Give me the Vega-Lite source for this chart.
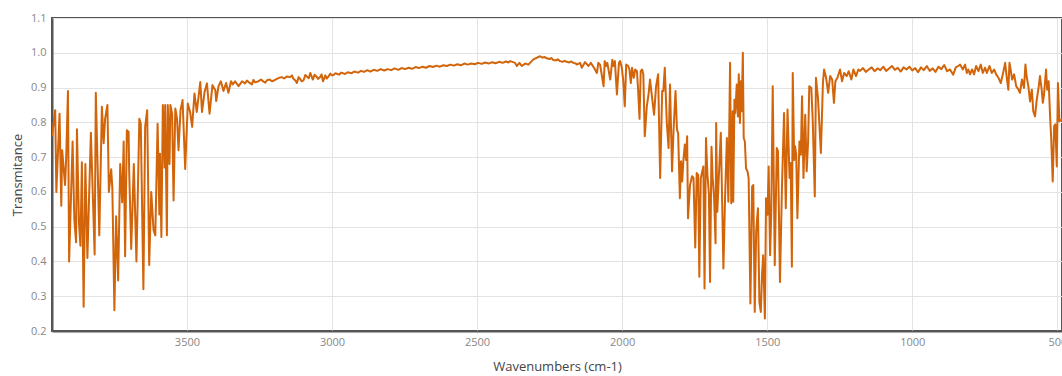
{
  "$schema": "https://vega.github.io/schema/vega-lite/v6.json",
  "width": 1010,
  "height": 313,
  "autosize": {"type": "none"},
  "padding": {"left": 52, "top": 18, "right": 0, "bottom": 45},
  "background": "white",
  "config": {
    "font": "Open Sans",
    "view": {"stroke": "#555555", "strokeWidth": 2}
  },
  "data": {"values": [
    {"w":3965,"t":0.76},{"w":3954,"t":0.835},{"w":3950,"t":0.60},{"w":3939,"t":0.825},{"w":3933,"t":0.56},
    {"w":3930,"t":0.72},{"w":3920,"t":0.62},{"w":3916,"t":0.70},{"w":3910,"t":0.89},{"w":3906,"t":0.40},
    {"w":3894,"t":0.745},{"w":3888,"t":0.52},{"w":3882,"t":0.455},{"w":3879,"t":0.78},{"w":3872,"t":0.51},
    {"w":3867,"t":0.445},{"w":3862,"t":0.685},{"w":3856,"t":0.27},{"w":3850,"t":0.68},{"w":3843,"t":0.41},
    {"w":3831,"t":0.77},{"w":3818,"t":0.42},{"w":3814,"t":0.885},{"w":3802,"t":0.475},{"w":3793,"t":0.845},
    {"w":3787,"t":0.74},{"w":3782,"t":0.81},{"w":3774,"t":0.85},{"w":3769,"t":0.60},{"w":3761,"t":0.665},
    {"w":3757,"t":0.61},{"w":3750,"t":0.26},{"w":3744,"t":0.53},{"w":3737,"t":0.345},{"w":3730,"t":0.68},
    {"w":3723,"t":0.57},{"w":3718,"t":0.745},{"w":3713,"t":0.415},{"w":3707,"t":0.777},{"w":3701,"t":0.772},
    {"w":3699,"t":0.66},{"w":3692,"t":0.436},{"w":3683,"t":0.68},{"w":3674,"t":0.40},{"w":3664,"t":0.81},
    {"w":3659,"t":0.796},{"w":3650,"t":0.32},{"w":3644,"t":0.787},{"w":3637,"t":0.835},{"w":3630,"t":0.39},
    {"w":3623,"t":0.60},{"w":3615,"t":0.49},{"w":3609,"t":0.475},{"w":3601,"t":0.796},{"w":3595,"t":0.535},
    {"w":3593,"t":0.71},{"w":3588,"t":0.47},{"w":3583,"t":0.85},{"w":3577,"t":0.67},{"w":3575,"t":0.85},
    {"w":3569,"t":0.475},{"w":3566,"t":0.85},{"w":3560,"t":0.68},{"w":3557,"t":0.85},{"w":3551,"t":0.825},
    {"w":3546,"t":0.575},{"w":3540,"t":0.84},{"w":3534,"t":0.81},{"w":3529,"t":0.72},{"w":3522,"t":0.835},
    {"w":3515,"t":0.864},{"w":3506,"t":0.666},{"w":3497,"t":0.854},{"w":3489,"t":0.83},{"w":3482,"t":0.787},
    {"w":3474,"t":0.883},{"w":3466,"t":0.83},{"w":3454,"t":0.916},{"w":3448,"t":0.83},{"w":3439,"t":0.888},
    {"w":3431,"t":0.912},{"w":3422,"t":0.825},{"w":3412,"t":0.907},{"w":3402,"t":0.892},{"w":3399,"t":0.861},
    {"w":3391,"t":0.904},{"w":3383,"t":0.918},{"w":3374,"t":0.89},{"w":3365,"t":0.913},{"w":3357,"t":0.885},
    {"w":3348,"t":0.918},{"w":3342,"t":0.909},{"w":3334,"t":0.918},{"w":3322,"t":0.904},{"w":3310,"t":0.918},
    {"w":3300,"t":0.912},{"w":3293,"t":0.92},{"w":3285,"t":0.914},{"w":3276,"t":0.909},{"w":3271,"t":0.922},
    {"w":3265,"t":0.915},{"w":3253,"t":0.918},{"w":3245,"t":0.923},{"w":3236,"t":0.917},{"w":3230,"t":0.914},
    {"w":3224,"t":0.921},{"w":3215,"t":0.923},{"w":3207,"t":0.918},{"w":3198,"t":0.921},{"w":3190,"t":0.925},
    {"w":3182,"t":0.928},{"w":3173,"t":0.93},{"w":3165,"t":0.926},{"w":3155,"t":0.932},{"w":3144,"t":0.93},
    {"w":3138,"t":0.935},{"w":3133,"t":0.925},{"w":3126,"t":0.92},{"w":3121,"t":0.913},{"w":3115,"t":0.93},
    {"w":3110,"t":0.925},{"w":3104,"t":0.918},{"w":3098,"t":0.921},{"w":3092,"t":0.936},{"w":3087,"t":0.932},
    {"w":3080,"t":0.927},{"w":3075,"t":0.942},{"w":3066,"t":0.923},{"w":3060,"t":0.937},{"w":3054,"t":0.932},
    {"w":3048,"t":0.925},{"w":3041,"t":0.93},{"w":3036,"t":0.938},{"w":3031,"t":0.918},{"w":3023,"t":0.935},
    {"w":3018,"t":0.926},{"w":3012,"t":0.932},{"w":3006,"t":0.94},{"w":3000,"t":0.935},{"w":2995,"t":0.936},
    {"w":2988,"t":0.941},{"w":2976,"t":0.937},{"w":2968,"t":0.943},{"w":2955,"t":0.939},{"w":2946,"t":0.944},
    {"w":2932,"t":0.941},{"w":2924,"t":0.946},{"w":2910,"t":0.943},{"w":2900,"t":0.948},{"w":2890,"t":0.945},
    {"w":2878,"t":0.95},{"w":2868,"t":0.946},{"w":2856,"t":0.951},{"w":2844,"t":0.948},{"w":2832,"t":0.953},
    {"w":2820,"t":0.949},{"w":2808,"t":0.953},{"w":2796,"t":0.95},{"w":2784,"t":0.955},{"w":2772,"t":0.951},
    {"w":2760,"t":0.956},{"w":2748,"t":0.953},{"w":2736,"t":0.957},{"w":2724,"t":0.954},{"w":2712,"t":0.959},
    {"w":2700,"t":0.956},{"w":2688,"t":0.96},{"w":2676,"t":0.957},{"w":2664,"t":0.962},{"w":2652,"t":0.959},
    {"w":2640,"t":0.963},{"w":2628,"t":0.96},{"w":2616,"t":0.964},{"w":2604,"t":0.962},{"w":2592,"t":0.966},
    {"w":2580,"t":0.963},{"w":2568,"t":0.967},{"w":2556,"t":0.964},{"w":2544,"t":0.969},{"w":2532,"t":0.966},
    {"w":2520,"t":0.969},{"w":2508,"t":0.967},{"w":2496,"t":0.971},{"w":2484,"t":0.968},{"w":2472,"t":0.972},
    {"w":2460,"t":0.969},{"w":2448,"t":0.973},{"w":2436,"t":0.97},{"w":2424,"t":0.974},{"w":2412,"t":0.971},
    {"w":2400,"t":0.975},{"w":2392,"t":0.972},
    {"w":2386,"t":0.976},{"w":2369,"t":0.971},
    {"w":2363,"t":0.962},{"w":2354,"t":0.971},{"w":2346,"t":0.962},{"w":2334,"t":0.969},{"w":2323,"t":0.966},
    {"w":2306,"t":0.981},{"w":2283,"t":0.99},{"w":2275,"t":0.986},{"w":2268,"t":0.988},{"w":2260,"t":0.984},
    {"w":2250,"t":0.982},{"w":2244,"t":0.985},{"w":2237,"t":0.979},{"w":2228,"t":0.978},{"w":2222,"t":0.981},
    {"w":2214,"t":0.976},{"w":2205,"t":0.974},{"w":2198,"t":0.977},
    {"w":2191,"t":0.974},{"w":2182,"t":0.972},{"w":2176,"t":0.975},{"w":2168,"t":0.971},{"w":2160,"t":0.969},
    {"w":2156,"t":0.966},{"w":2145,"t":0.971},{"w":2139,"t":0.957},
    {"w":2128,"t":0.973},{"w":2116,"t":0.962},{"w":2108,"t":0.971},{"w":2097,"t":0.957},{"w":2087,"t":0.942},
    {"w":2082,"t":0.971},{"w":2076,"t":0.966},{"w":2064,"t":0.904},{"w":2060,"t":0.976},{"w":2055,"t":0.962},
    {"w":2051,"t":0.971},{"w":2041,"t":0.923},{"w":2034,"t":0.98},{"w":2030,"t":0.962},{"w":2025,"t":0.976},
    {"w":2018,"t":0.88},{"w":2011,"t":0.971},{"w":2007,"t":0.976},{"w":2001,"t":0.957},{"w":1996,"t":0.918},
    {"w":1991,"t":0.846},{"w":1986,"t":0.966},{"w":1979,"t":0.962},{"w":1975,"t":0.952},{"w":1970,"t":0.913},
    {"w":1966,"t":0.957},{"w":1960,"t":0.928},{"w":1955,"t":0.952},{"w":1949,"t":0.947},{"w":1945,"t":0.894},
    {"w":1940,"t":0.81},{"w":1936,"t":0.947},{"w":1931,"t":0.952},{"w":1927,"t":0.938},{"w":1922,"t":0.76},
    {"w":1915,"t":0.846},{"w":1909,"t":0.88},{"w":1904,"t":0.923},{"w":1896,"t":0.865},{"w":1890,"t":0.822},
    {"w":1883,"t":0.904},{"w":1876,"t":0.938},{"w":1869,"t":0.64},{"w":1862,"t":0.89},{"w":1858,"t":0.89},
    {"w":1853,"t":0.957},{"w":1846,"t":0.798},{"w":1840,"t":0.726},{"w":1835,"t":0.909},{"w":1828,"t":0.659},
    {"w":1823,"t":0.774},{"w":1816,"t":0.89},{"w":1811,"t":0.779},{"w":1807,"t":0.769},{"w":1801,"t":0.582},
    {"w":1797,"t":0.688},{"w":1793,"t":0.63},{"w":1789,"t":0.69},{"w":1784,"t":0.736},{"w":1780,"t":0.692},
    {"w":1776,"t":0.76},{"w":1773,"t":0.524},{"w":1766,"t":0.62},{"w":1759,"t":0.645},{"w":1754,"t":0.64},
    {"w":1748,"t":0.44},{"w":1743,"t":0.654},{"w":1738,"t":0.649},{"w":1734,"t":0.356},{"w":1729,"t":0.639},
    {"w":1724,"t":0.659},{"w":1720,"t":0.673},{"w":1716,"t":0.322},{"w":1711,"t":0.755},{"w":1706,"t":0.649},
    {"w":1701,"t":0.596},{"w":1697,"t":0.341},{"w":1692,"t":0.73},{"w":1688,"t":0.64},{"w":1683,"t":0.582},
    {"w":1678,"t":0.452},{"w":1676,"t":0.798},{"w":1672,"t":0.543},{"w":1667,"t":0.64},{"w":1660,"t":0.77},
    {"w":1655,"t":0.562},{"w":1651,"t":0.38},{"w":1645,"t":0.591},{"w":1639,"t":0.755},{"w":1634,"t":0.572},
    {"w":1628,"t":0.971},{"w":1624,"t":0.567},{"w":1619,"t":0.832},{"w":1617,"t":0.572},{"w":1613,"t":0.865},
    {"w":1610,"t":0.827},{"w":1605,"t":0.909},{"w":1601,"t":0.817},{"w":1598,"t":0.938},{"w":1594,"t":0.798},
    {"w":1591,"t":0.918},{"w":1588,"t":0.832},{"w":1584,"t":1.0},{"w":1581,"t":0.755},{"w":1577,"t":0.745},
    {"w":1573,"t":0.668},{"w":1568,"t":0.659},{"w":1564,"t":0.64},{"w":1558,"t":0.279},{"w":1552,"t":0.615},
    {"w":1548,"t":0.62},{"w":1543,"t":0.255},{"w":1538,"t":0.486},{"w":1532,"t":0.553},{"w":1527,"t":0.284},
    {"w":1522,"t":0.255},{"w":1518,"t":0.36},{"w":1514,"t":0.418},{"w":1508,"t":0.236},{"w":1504,"t":0.582},
    {"w":1499,"t":0.534},{"w":1495,"t":0.673},{"w":1490,"t":0.418},{"w":1486,"t":0.543},{"w":1481,"t":0.904},
    {"w":1474,"t":0.389},{"w":1467,"t":0.726},{"w":1463,"t":0.717},{"w":1456,"t":0.341},{"w":1449,"t":0.62},
    {"w":1442,"t":0.827},{"w":1436,"t":0.553},{"w":1430,"t":0.837},{"w":1423,"t":0.64},{"w":1419,"t":0.683},
    {"w":1415,"t":0.385},{"w":1412,"t":0.942},{"w":1407,"t":0.692},{"w":1404,"t":0.731},{"w":1400,"t":0.707},
    {"w":1396,"t":0.524},{"w":1389,"t":0.745},{"w":1384,"t":0.707},{"w":1380,"t":0.875},{"w":1375,"t":0.64},
    {"w":1369,"t":0.822},{"w":1364,"t":0.659},{"w":1359,"t":0.745},{"w":1355,"t":0.904},{"w":1348,"t":0.899},
    {"w":1343,"t":0.803},{"w":1336,"t":0.587},{"w":1332,"t":0.928},{"w":1325,"t":0.87},{"w":1315,"t":0.712},
    {"w":1308,"t":0.913},{"w":1304,"t":0.952},{"w":1297,"t":0.928},{"w":1290,"t":0.885},{"w":1283,"t":0.933},
    {"w":1276,"t":0.923},{"w":1270,"t":0.856},{"w":1265,"t":0.918},{"w":1258,"t":0.928},{"w":1249,"t":0.952},
    {"w":1242,"t":0.918},{"w":1235,"t":0.942},{"w":1226,"t":0.933},{"w":1219,"t":0.947},{"w":1210,"t":0.923},
    {"w":1203,"t":0.952},{"w":1194,"t":0.933},{"w":1186,"t":0.952},{"w":1180,"t":0.948},{"w":1170,"t":0.956},
    {"w":1160,"t":0.945},{"w":1150,"t":0.952},{"w":1140,"t":0.958},{"w":1130,"t":0.947},{"w":1120,"t":0.955},
    {"w":1110,"t":0.95},{"w":1100,"t":0.96},{"w":1090,"t":0.948},{"w":1080,"t":0.955},{"w":1070,"t":0.962},
    {"w":1060,"t":0.951},{"w":1050,"t":0.957},{"w":1040,"t":0.946},{"w":1030,"t":0.958},{"w":1020,"t":0.952},
    {"w":1010,"t":0.96},{"w":1000,"t":0.949},{"w":990,"t":0.956},{"w":980,"t":0.944},{"w":970,"t":0.958},
    {"w":960,"t":0.95},{"w":950,"t":0.962},{"w":940,"t":0.948},{"w":930,"t":0.955},{"w":920,"t":0.945},
    {"w":910,"t":0.96},{"w":900,"t":0.953},{"w":890,"t":0.965},{"w":880,"t":0.947},{"w":870,"t":0.952},
    {"w":859,"t":0.937},{"w":850,"t":0.958},{"w":842,"t":0.962},{"w":835,"t":0.966},{"w":826,"t":0.952},
    {"w":818,"t":0.966},{"w":812,"t":0.942},{"w":807,"t":0.952},{"w":801,"t":0.938},{"w":794,"t":0.952},
    {"w":787,"t":0.938},{"w":780,"t":0.962},{"w":772,"t":0.947},{"w":764,"t":0.966},{"w":757,"t":0.942},
    {"w":749,"t":0.957},{"w":743,"t":0.942},{"w":734,"t":0.962},{"w":726,"t":0.942},{"w":718,"t":0.952},
    {"w":711,"t":0.938},{"w":703,"t":0.928},{"w":695,"t":0.913},{"w":688,"t":0.938},{"w":680,"t":0.971},
    {"w":675,"t":0.933},{"w":669,"t":0.894},{"w":665,"t":0.971},{"w":661,"t":0.952},{"w":656,"t":0.923},
    {"w":649,"t":0.938},{"w":642,"t":0.904},{"w":634,"t":0.894},{"w":629,"t":0.885},{"w":622,"t":0.923},
    {"w":615,"t":0.899},{"w":610,"t":0.966},{"w":606,"t":0.933},{"w":600,"t":0.904},{"w":594,"t":0.86},
    {"w":588,"t":0.894},{"w":583,"t":0.832},{"w":577,"t":0.817},{"w":571,"t":0.865},{"w":564,"t":0.904},
    {"w":560,"t":0.933},{"w":554,"t":0.894},{"w":550,"t":0.856},{"w":546,"t":0.88},{"w":539,"t":0.952},
    {"w":535,"t":0.894},{"w":530,"t":0.918},{"w":525,"t":0.817},{"w":521,"t":0.75},{"w":516,"t":0.63},
    {"w":511,"t":0.79},{"w":507,"t":0.794},{"w":502,"t":0.673},{"w":498,"t":0.913},{"w":493,"t":0.803},
    {"w":485,"t":0.808},{"w":478,"t":0.80}
  ]},
  "mark": {"type": "line", "color": "#D2640A", "strokeWidth": 2, "clip": true, "strokeJoin": "round"},
  "encoding": {
    "x": {
      "field": "w", "type": "quantitative",
      "scale": {"domain": [484, 3965], "reverse": true, "nice": false, "zero": false},
      "axis": {
        "title": "Wavenumbers (cm-1)",
        "values": [500, 1000, 1500, 2000, 2500, 3000, 3500],
        "format": "d",
        "ticks": false, "tickSize": 0,
        "labelPadding": 5, "labelFontSize": 11, "labelColor": "#888888",
        "titleFontSize": 13, "titleFontWeight": "normal", "titleColor": "#444444", "titlePadding": 13,
        "domainColor": "#555555", "domainWidth": 2,
        "grid": true, "gridColor": "#e3e3e3", "gridWidth": 1
      }
    },
    "y": {
      "field": "t", "type": "quantitative",
      "scale": {"domain": [0.2, 1.1], "nice": false, "zero": false},
      "axis": {
        "title": "Transmitance",
        "values": [0.2, 0.3, 0.4, 0.5, 0.6, 0.7, 0.8, 0.9, 1.0, 1.1],
        "format": ".1f",
        "ticks": false, "tickSize": 0,
        "labelPadding": 6, "labelFontSize": 11, "labelColor": "#888888",
        "titleFontSize": 13, "titleFontWeight": "normal", "titleColor": "#444444", "titlePadding": 6,
        "domainColor": "#555555", "domainWidth": 2,
        "grid": true, "gridColor": "#e3e3e3", "gridWidth": 1
      }
    }
  }
}
